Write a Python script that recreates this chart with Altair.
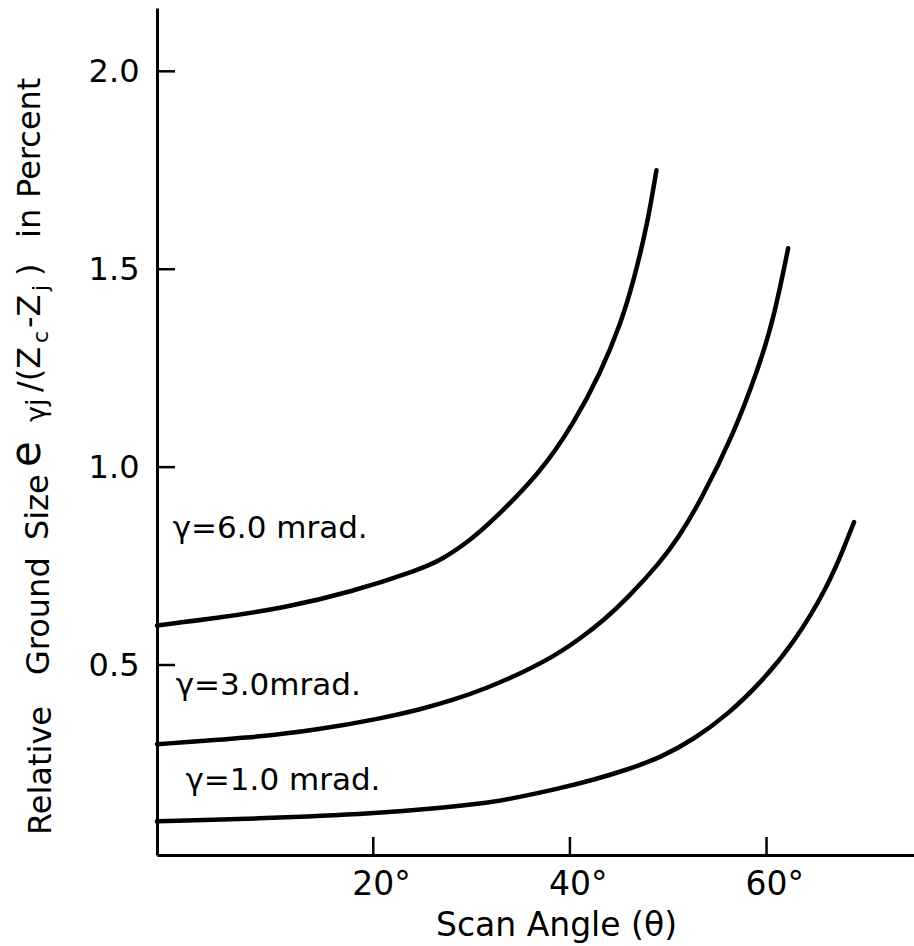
import altair as alt
import pandas as pd

# Relative ground size (percent) versus scan angle (degrees) for three IFOVs
angle_6mrad = [-2.0, 4.2, 10.9, 17.7, 24.8, 26.9, 29.9, 31.9, 37.0, 40.4, 43.1, 45.2, 46.5, 47.9, 48.8]
size_6mrad = [0.600, 0.619, 0.644, 0.684, 0.742, 0.765, 0.816, 0.859, 0.985, 1.111, 1.237, 1.364, 1.472, 1.616, 1.750]

angle_3mrad = [-2.0, 7.5, 14.3, 21.0, 24.8, 28.2, 31.6, 35.0, 38.4, 41.1, 43.4, 45.9, 49.2, 51.0, 53.3, 56.7, 59.1, 60.7, 62.2]
size_3mrad = [0.300, 0.316, 0.336, 0.366, 0.388, 0.412, 0.442, 0.479, 0.522, 0.568, 0.612, 0.670, 0.760, 0.820, 0.915, 1.086, 1.245, 1.371, 1.553]

angle_1mrad = [-2.0, 10.9, 21.0, 29.9, 33.7, 39.1, 42.4, 45.9, 49.2, 52.6, 56.1, 59.4, 62.8, 66.2, 67.9, 68.9]
size_1mrad = [0.105, 0.114, 0.126, 0.146, 0.160, 0.189, 0.210, 0.236, 0.266, 0.312, 0.376, 0.455, 0.556, 0.697, 0.798, 0.861]

# Curve labels and where they sit (angle, percent)
label_text = ["\u03b3=6.0 mrad.", "\u03b3=3.0mrad.", "\u03b3=1.0 mrad."]
label_angle = [-0.4, -0.1, 0.9]
label_value = [0.821, 0.424, 0.184]

x_ticks = [20, 40, 60]
x_tick_labels = ["20\u00b0", "40\u00b0", "60\u00b0"]
y_ticks = [0.5, 1.0, 1.5, 2.0]

FONT = "DejaVu Sans"
W, H = 757, 847
LEFT, TOP = 157, 8

rows = []
for name, xs, ys in [("6.0", angle_6mrad, size_6mrad),
                     ("3.0", angle_3mrad, size_3mrad),
                     ("1.0", angle_1mrad, size_1mrad)]:
    for a, v in zip(xs, ys):
        rows.append({"ifov": name, "angle": a, "size": v})
curves_df = pd.DataFrame(rows)
labels_df = pd.DataFrame({"text": label_text, "angle": label_angle, "size": label_value})

x_scale = alt.Scale(domain=[-2, 75], nice=False, zero=False)
y_scale = alt.Scale(domain=[0.02, 2.16], nice=False, zero=False)

x_axis = alt.Axis(
    values=x_ticks, labels=False, ticks=False, grid=False,
    domainColor="black", domainWidth=3,
    title="Scan Angle (\u03b8)", titleFont=FONT, titleFontSize=33,
    titleFontWeight="normal", titleColor="black", titleX=399, titleY=80,
    titleBaseline="alphabetic", titleAlign="center",
)
y_axis = alt.Axis(
    values=y_ticks, format=".1f", ticks=False, grid=False,
    domainColor="black", domainWidth=3, labelFont=FONT, labelFontSize=32,
    labelColor="black", labelPadding=18, title=None,
)

curves = alt.Chart(curves_df).mark_line(
    color="black", strokeWidth=4.5, interpolate="basis", strokeCap="round"
).encode(
    x=alt.X("angle:Q", scale=x_scale, axis=x_axis),
    y=alt.Y("size:Q", scale=y_scale, axis=y_axis),
    detail="ifov:N",
)

# Inward tick marks on both axes
x_tick_marks = alt.Chart(pd.DataFrame({"t": x_ticks})).mark_rule(
    color="black", strokeWidth=2.5
).encode(x=alt.X("t:Q", scale=x_scale), y=alt.value(H), y2=alt.value(H - 18))

y_tick_marks = alt.Chart(pd.DataFrame({"t": y_ticks})).mark_rule(
    color="black", strokeWidth=2.5
).encode(y=alt.Y("t:Q", scale=y_scale), x=alt.value(0), x2=alt.value(18))

# Degree labels: the number is centred on its tick, the degree sign trails
x_tick_text = alt.Chart(pd.DataFrame({"t": x_ticks, "label": x_tick_labels})).mark_text(
    font=FONT, fontSize=33, align="left", baseline="top", color="black", dx=-21
).encode(x=alt.X("t:Q", scale=x_scale), y=alt.value(H + 14), text="label:N")

curve_labels = alt.Chart(labels_df).mark_text(
    font=FONT, fontSize=31, align="left", baseline="alphabetic", color="black"
).encode(
    x=alt.X("angle:Q", scale=x_scale),
    y=alt.Y("size:Q", scale=y_scale),
    text="text:N",
)

# Vertical y-axis title built from pieces so the subscripts can be set smaller
# (text, font size, baseline x, start y) in page pixels
title_pieces = [
    ("Relative", 32, 51, 835),
    ("Ground", 32, 49, 675),
    ("Size", 32, 48, 540),
    ("e", 42, 40, 467),
    ("\u03b3j", 27, 45, 422),
    ("/(Z", 32, 40, 392),
    ("c", 22, 48, 343),
    ("-Z", 32, 40, 328),
    ("j", 22, 48, 291),
    (")", 32, 40, 276),
    ("in", 32, 40, 238),
    ("Percent", 32, 40, 198),
]
title_layers = []
for text, fs, bx, sy in title_pieces:
    title_layers.append(
        alt.Chart(pd.DataFrame({"t": [text]})).mark_text(
            font=FONT, fontSize=fs, angle=270, align="left",
            baseline="alphabetic", color="black"
        ).encode(text="t:N", x=alt.value(bx - LEFT), y=alt.value(sy - TOP))
    )

chart = alt.layer(
    curves, x_tick_marks, y_tick_marks, x_tick_text, curve_labels, *title_layers
).properties(
    width=W, height=H,
    autosize=alt.AutoSizeParams(type="none"),
    padding={"left": LEFT, "top": TOP, "right": 0, "bottom": 946 - TOP - H},
    background="white",
).configure_view(strokeWidth=0)

chart.save("out.html", embed_options={"renderer": "svg", "actions": False})
